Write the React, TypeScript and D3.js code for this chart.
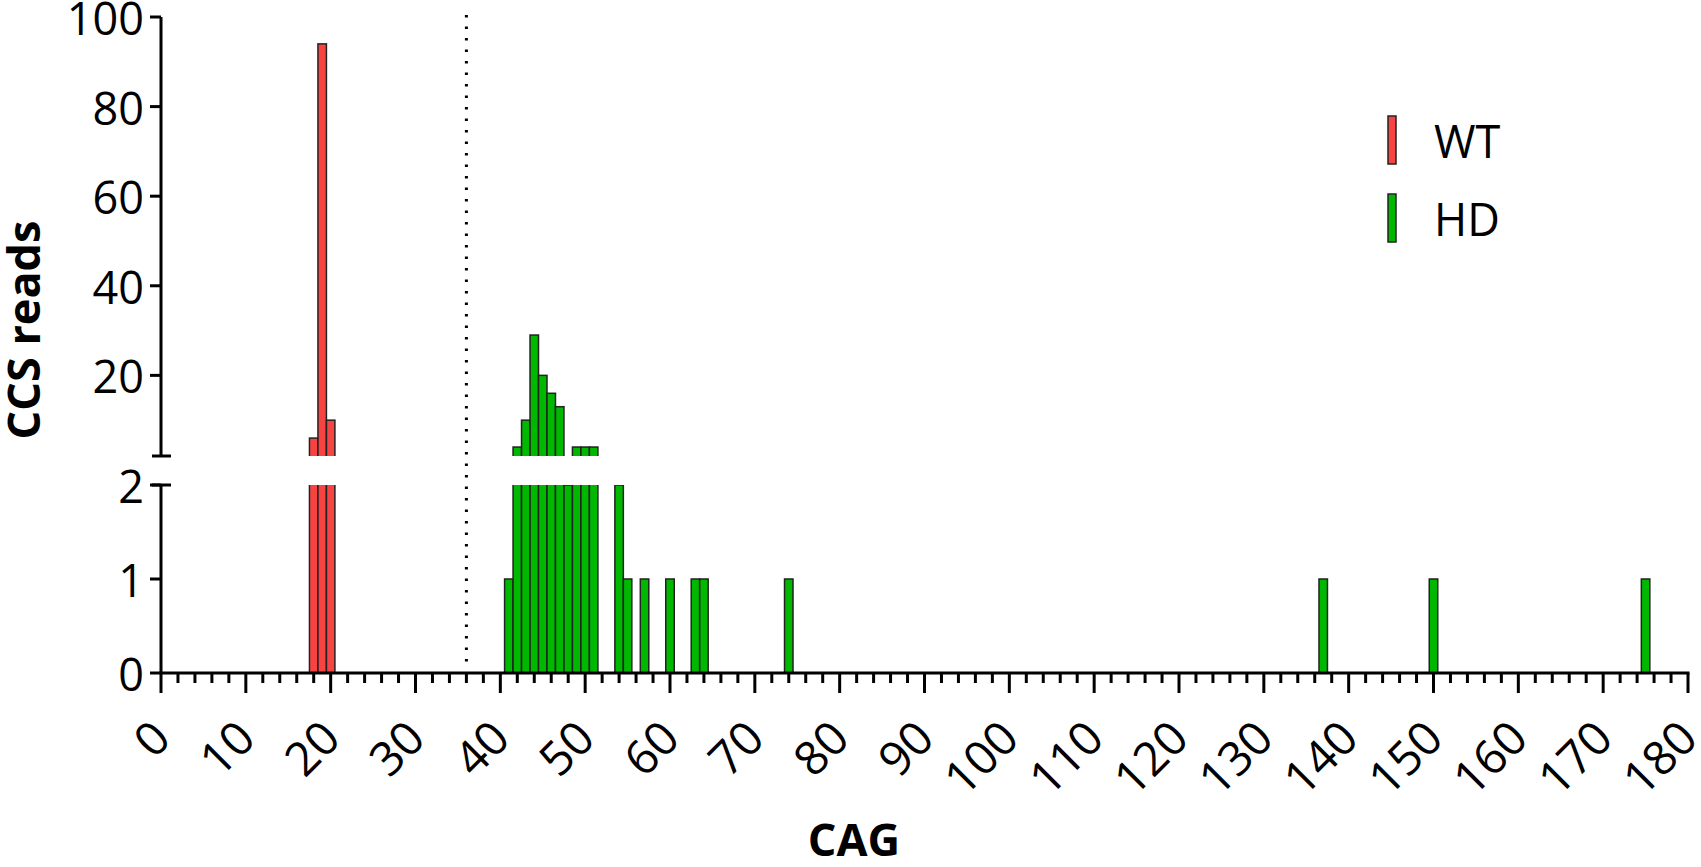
import React from "react";
import * as d3 from "d3";

// CAG repeat length distribution of CCS reads
const wtCag = [18, 19, 20];
const wtReads = [6, 94, 10];

const hdCag = [41, 42, 43, 44, 45, 46, 47, 48, 49, 50, 51, 54, 55, 57, 60, 63, 64, 74, 137, 150, 175];
const hdReads = [1, 4, 10, 29, 20, 16, 13, 2, 4, 4, 4, 2, 1, 1, 1, 1, 1, 1, 1, 1, 1];

const xTicksMajor = [0, 10, 20, 30, 40, 50, 60, 70, 80, 90, 100, 110, 120, 130, 140, 150, 160, 170, 180];
const yTicksUpper = [20, 40, 60, 80, 100];
const yTicksLower = [0, 1, 2];
const thresholdCag = 36;

const seriesNames = ["WT", "HD"];
const seriesColors = ["#F84343", "#00B800"];

const W = 1701;
const H = 867;
const FONT = "'Open Sans', 'Noto Sans', sans-serif";

export default function App() {
  const x = d3.scaleLinear().domain([0, 180]).range([161, 1688]);
  const yUp = d3.scaleLinear().domain([2, 100]).range([456, 17]);
  const yLo = d3.scaleLinear().domain([0, 2]).range([673, 485]);
  const [lo0, lo1] = yLo.domain();
  const [up0, up1] = yUp.domain();
  const axisY = yLo(0);
  const axisX = x(0);

  const series = [
    { name: seriesNames[0], color: seriesColors[0], cag: wtCag, reads: wtReads },
    { name: seriesNames[1], color: seriesColors[1], cag: hdCag, reads: hdReads },
  ];

  const minorTicks = d3.range(0, 181, 2).filter((t) => t % 10 !== 0);

  const bars = (clipId: string, seg: "up" | "lo") =>
    series.map((s) =>
      s.cag.map((c, i) => {
        const v = s.reads[i];
        const x0 = x(c - 0.5);
        const x1 = x(c + 0.5);
        if (seg === "lo") {
          const top = v > lo1 ? yLo(lo1) - 10 : yLo(v);
          return (
            <rect key={`${s.name}-lo-${c}`} x={x0} y={top} width={x1 - x0} height={axisY + 2 - top}
              fill={s.color} stroke="#222" strokeWidth={1.5} clipPath={`url(#${clipId})`} />
          );
        }
        if (v <= up0) return null;
        const top = yUp(v);
        return (
          <rect key={`${s.name}-up-${c}`} x={x0} y={top} width={x1 - x0} height={yUp(up0) + 10 - top}
            fill={s.color} stroke="#222" strokeWidth={1.5} clipPath={`url(#${clipId})`} />
        );
      })
    );

  return (
    <svg width={W} height={H} style={{ position: "absolute", left: 0, top: 0, background: "#fff" }}
      fontFamily={FONT}>
      <defs>
        <clipPath id="clipUp">
          <rect x={axisX} y={yUp(up1) - 5} width={x(180) - axisX} height={yUp(up0) - yUp(up1) + 5} />
        </clipPath>
        <clipPath id="clipLo">
          <rect x={axisX} y={yLo(lo1)} width={x(180) - axisX} height={yLo(lo0) - yLo(lo1)} />
        </clipPath>
      </defs>

      {/* bars */}
      {bars("clipUp", "up")}
      {bars("clipLo", "lo")}

      {/* threshold line */}
      <line x1={x(thresholdCag)} x2={x(thresholdCag)} y1={15} y2={666}
        stroke="#000" strokeWidth={3} strokeDasharray="2.6 8.9" strokeLinecap="butt" />

      {/* y axis, upper segment */}
      <line x1={axisX} x2={axisX} y1={yUp(up1)} y2={yUp(up0)} stroke="#000" strokeWidth={3} />
      <line x1={axisX - 9} x2={axisX + 10} y1={yUp(up0)} y2={yUp(up0)} stroke="#000" strokeWidth={3} />
      {yTicksUpper.map((t) => (
        <g key={`yu${t}`}>
          <line x1={axisX - 11} x2={axisX} y1={yUp(t)} y2={yUp(t)} stroke="#000" strokeWidth={3} />
          <text x={axisX - 17} y={yUp(t)} dy="0.4em" textAnchor="end" fontSize={45}>{t}</text>
        </g>
      ))}

      {/* y axis, lower segment */}
      <line x1={axisX} x2={axisX} y1={yLo(lo1)} y2={axisY} stroke="#000" strokeWidth={3} />
      <line x1={axisX - 9} x2={axisX + 10} y1={yLo(lo1)} y2={yLo(lo1)} stroke="#000" strokeWidth={3} />
      {yTicksLower.map((t) => (
        <g key={`yl${t}`}>
          <line x1={axisX - 11} x2={axisX} y1={yLo(t)} y2={yLo(t)} stroke="#000" strokeWidth={3} />
          <text x={axisX - 17} y={yLo(t)} dy="0.4em" textAnchor="end" fontSize={45}>{t}</text>
        </g>
      ))}

      {/* x axis */}
      <line x1={axisX - 1.5} x2={x(180) + 1.5} y1={axisY} y2={axisY} stroke="#000" strokeWidth={3} />
      {minorTicks.map((t) => (
        <line key={`xm${t}`} x1={x(t)} x2={x(t)} y1={axisY} y2={axisY + 10} stroke="#000" strokeWidth={3} />
      ))}
      {xTicksMajor.map((t) => (
        <g key={`xM${t}`}>
          <line x1={x(t)} x2={x(t)} y1={axisY} y2={axisY + 20} stroke="#000" strokeWidth={3} />
          <text transform={`translate(${x(t) + 12},${axisY + 68}) rotate(-45)`} textAnchor="end"
            fontSize={47}>{t}</text>
        </g>
      ))}

      {/* axis titles */}
      <text x={854} y={856} textAnchor="middle" fontSize={45} fontWeight="bold">CAG</text>
      <text transform={`translate(40,330) rotate(-90)`} textAnchor="middle" fontSize={45}
        fontWeight="bold">CCS reads</text>

      {/* legend */}
      {series.map((s, i) => (
        <g key={`lg${s.name}`} transform={`translate(1388,${116 + i * 78})`}>
          <rect x={0} y={0} width={8} height={48} fill={s.color} stroke="#222" strokeWidth={1.5} />
          <text x={46} y={42} fontSize={45}>{s.name}</text>
        </g>
      ))}
    </svg>
  );
}
